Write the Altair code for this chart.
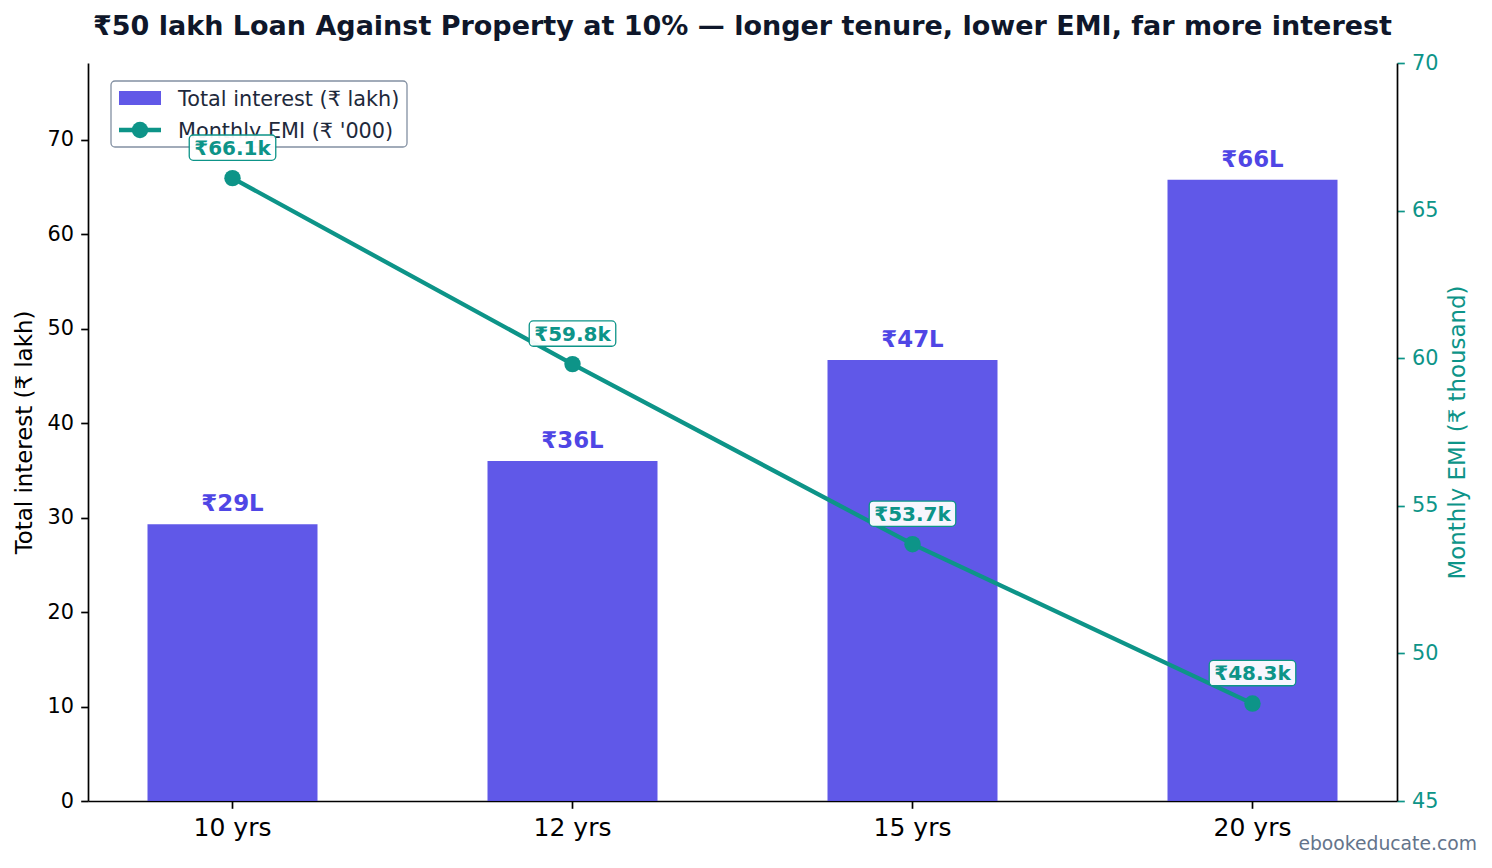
import altair as alt
import pandas as pd

# ---- data ----
tenures = ["10 yrs", "12 yrs", "15 yrs", "20 yrs"]
interest_lakh = [29.3, 36.0, 46.7, 65.8]
emi_thousand = [66.1, 59.8, 53.7, 48.3]
series_names = ["Total interest (₹ lakh)", "Monthly EMI (₹ '000)"]
left_ticks = [0, 10, 20, 30, 40, 50, 60, 70]
right_ticks = [45, 50, 55, 60, 65, 70]

INDIGO = "#4f46e5"
BAR_FILL = "#6158e7"
TEAL = "#0d9488"
FONT = "DejaVu Sans"

df = pd.DataFrame({"tenure": tenures, "interest": interest_lakh, "emi": emi_thousand})
df["bar_label"] = ["₹%dL" % round(v) for v in interest_lakh]
df["emi_label"] = ["₹%.1fk" % v for v in emi_thousand]

x_enc = alt.X(
    "tenure:N",
    sort=tenures,
    scale=alt.Scale(paddingInner=0.5, paddingOuter=0.175),
    axis=alt.Axis(title=None, labelAngle=0, labelFontSize=25, labelColor="black",
                  labelPadding=7, tickSize=7.3, tickWidth=1.7, tickColor="black",
                  domainColor="black", domainWidth=1.7, grid=False),
)

y_left = alt.Y(
    "interest:Q",
    scale=alt.Scale(domain=[0, 78.15], nice=False, zero=True),
    axis=alt.Axis(values=left_ticks, title="Total interest (₹ lakh)", titleFontSize=22.9,
                  titleFontWeight="normal", titleColor="black", titlePadding=10,
                  labelFontSize=20.8, labelColor="black", labelPadding=7.3,
                  tickSize=7.3, tickWidth=1.7, tickColor="black",
                  domainColor="black", domainWidth=1.7, grid=False),
)

y_right = alt.Y(
    "emi:Q",
    scale=alt.Scale(domain=[45, 70], nice=False, zero=False),
    axis=alt.Axis(orient="right", values=right_ticks, title="Monthly EMI (₹ thousand)",
                  titleFontSize=22.9, titleFontWeight="normal", titleColor=TEAL,
                  titleAngle=270, titleBaseline="top", titlePadding=8,
                  labelFontSize=20.8, labelColor=TEAL, labelPadding=7.3,
                  tickSize=7.3, tickWidth=1.7, tickColor=TEAL,
                  domainColor="black", domainWidth=1.7, grid=False),
)

base = alt.Chart(df)

bars = base.mark_bar(color=INDIGO, opacity=0.9).encode(x=x_enc, y=y_left)
bar_text = base.mark_text(fontSize=22.9, fontWeight="bold", color=INDIGO,
                          baseline="alphabetic", dy=-13).encode(x=x_enc, y=y_left, text="bar_label:N")

line = base.mark_line(color=TEAL, strokeWidth=4.3).encode(x=x_enc, y=y_right)
pts = base.mark_circle(color=TEAL, size=270, opacity=1).encode(x=x_enc, y=y_right)

BOX_PATH = ("M-3.1,-1H3.1A0.32,0.32 0 0 1 3.42,-0.68V0.68A0.32,0.32 0 0 1 3.1,1"
            "H-3.1A0.32,0.32 0 0 1 -3.42,0.68V-0.68A0.32,0.32 0 0 1 -3.1,-1Z")
boxes = base.mark_point(shape=BOX_PATH, size=640, filled=True, fill="white", stroke=TEAL,
                        strokeWidth=1.3, opacity=1, fillOpacity=0.95, yOffset=-30.5).encode(x=x_enc, y=y_right)
emi_text = base.mark_text(fontSize=20, fontWeight="bold", color=TEAL,
                          baseline="alphabetic", dy=-23.5).encode(x=x_enc, y=y_right, text="emi_label:N")

# ---- legend (drawn as marks so the EMI label can sit on top of it, as in the reference) ----
leg_df = pd.DataFrame({"series": series_names})
leg_box = alt.Chart(leg_df.head(1)).mark_rect(
    fill="white", fillOpacity=0.8, stroke="#8390a2", strokeWidth=1.3, cornerRadius=4
).encode(x=alt.value(23), x2=alt.value(319), y=alt.value(18), y2=alt.value(84))
leg_swatch = alt.Chart(leg_df.head(1)).mark_rect(fill=BAR_FILL).encode(
    x=alt.value(31), x2=alt.value(73), y=alt.value(28), y2=alt.value(42))
leg_line = alt.Chart(leg_df.tail(1)).mark_rule(color=TEAL, strokeWidth=4.3).encode(
    x=alt.value(31), x2=alt.value(73), y=alt.value(67))
leg_dot = alt.Chart(leg_df.tail(1)).mark_circle(color=TEAL, size=270, opacity=1).encode(
    x=alt.value(52), y=alt.value(67))
leg_t1 = alt.Chart(leg_df.head(1)).mark_text(
    align="left", baseline="alphabetic", fontSize=20.8, color="#1e293b"
).encode(x=alt.value(90), y=alt.value(42.5), text="series:N")
leg_t2 = alt.Chart(leg_df.tail(1)).mark_text(
    align="left", baseline="alphabetic", fontSize=20.8, color="#1e293b"
).encode(x=alt.value(90), y=alt.value(74.5), text="series:N")

wm = alt.Chart(pd.DataFrame({"t": ["ebookeducate.com"]})).mark_text(
    align="right", baseline="alphabetic", fontSize=18.75, color="#64748b"
).encode(x=alt.value(1389), y=alt.value(787), text="t:N")

left = alt.layer(bars, bar_text)
right = alt.layer(line, pts, boxes, emi_text)

chart = alt.layer(
    left, leg_box, leg_swatch, leg_line, leg_dot, leg_t1, leg_t2, right, wm
).resolve_scale(y="independent").properties(
    width=1309,
    height=738,
    title=alt.Title("₹50 lakh Loan Against Property at 10% — longer tenure, lower EMI, far more interest",
                    fontSize=27, fontWeight="bold", color="#0f172a", anchor="middle",
                    baseline="alphabetic", offset=30, dy=40, font=FONT),
    padding={"left": 88, "top": 63, "right": 95, "bottom": 67},
    autosize=alt.AutoSizeParams(type="none"),
).configure(font=FONT).configure_view(strokeWidth=0)

chart.save("out.html", embed_options={"renderer": "svg", "actions": False})
